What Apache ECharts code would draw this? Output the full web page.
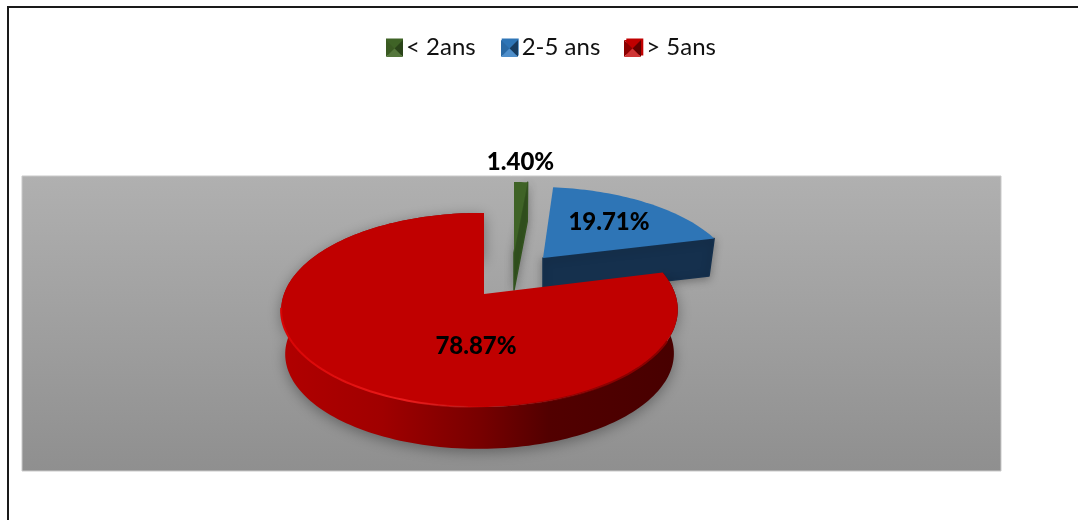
<!DOCTYPE html>
<html><head><meta charset="utf-8">
<style>html,body{margin:0;padding:0;background:#fff}#c{width:1078px;height:520px}</style>
<script src="https://cdn.jsdelivr.net/npm/echarts@6/dist/echarts.min.js"></script>
</head><body><div id="c"></div>
<script>
const categories = ['< 2ans', '2-5 ans', '> 5ans'];
const shares = [1.40, 19.71, 78.87];

const topColors = ['#3f6326', '#2e75b6', '#c00000'];
const wallColors = ['#33531f', '#15304d', '#700000'];
// perspective model of each exploded slice (apex, radii, foreshortening)
const slices = [
  {ax:514, ay:253, R:190.6, S:87.2, k:.228, m:.02, a:0, depth:37, base:.97, lx:6.5, ly:-91},
  {ax:543, ay:258, R:190.6, S:87.2, k:.228, m:.02, a:-4.3, depth:37, base:.97, lx:66, ly:-36},
  {ax:484, ay:294, R:195.5, S:94.4, k:.165, m:.0226, a:0, depth:44, base:.98, lx:-8, ly:52}
];
const LABEL_FONT = '900 24px Lato';
const total = shares.reduce((s, v) => s + v, 0);

function rim(g, deg, lower) {
  const t = deg * Math.PI / 180, u = Math.sin(t), v = Math.cos(t);
  const d = 1 + g.k * v + g.m * u, s = lower ? g.base : 1;
  return [g.ax + s * (g.R * u + g.a * v) / d,
          g.ay + (lower ? g.depth : 0) - s * g.S * v / d];
}
function arc(g, a0, a1, lower) {
  const pts = [], n = Math.max(4, Math.ceil(Math.abs(a1 - a0) / 1.5));
  for (let i = 0; i <= n; i++) pts.push(rim(g, a0 + (a1 - a0) * i / n, lower));
  return pts;
}
function grad(x0, x1, stops) {
  return {type:'linear', x:x0, y:0, x2:x1, y2:0, global:true,
    colorStops: stops.map(s => ({offset:s[0], color:s[1]}))};
}
function renderSlice(params, api) {
  const i = params.seriesIndex, g = slices[i];
  let start = 0;
  for (let j = 0; j < i; j++) start += shares[j] / total * 360;
  const end = start + api.value(0) / total * 360;
  const kids = [];
  const apex = [g.ax, g.ay], apexLow = [g.ax, g.ay + g.depth];
  if (i === 2) {
    const top = arc(g, start, end, false), low = arc(g, end, start, true);
    kids.push({type:'polygon', shape:{points: top.concat(low)}, style:{
      fill: grad(285, 673, [[0,'#b00000'],[.25,'#a00000'],[.5,'#780000'],[.68,'#520000'],[1,'#480000']]),
      shadowBlur:14, shadowColor:'rgba(0,0,0,.34)', shadowOffsetY:3}});
  } else {
    const r = rim(g, end, false), rl = rim(g, end, true);
    kids.push({type:'polygon', shape:{points:[apex, r, rl, apexLow]}, style:{
      fill: wallColors[i], stroke: wallColors[i], lineWidth:1.5, lineJoin:'round',
      shadowBlur:8, shadowColor:'rgba(0,0,0,.3)', shadowOffsetY:2}});
  }
  kids.push({type:'polygon', shape:{points:[apex].concat(arc(g, start, end, false))},
    style:{fill: topColors[i]}});
  if (i === 2) {
    kids.push({type:'polyline', shape:{points: arc(g, 262, 175, false)}, style:{
      fill:null, lineWidth:2,
      stroke: grad(280, 490, [[0,'#d80404'],[.6,'#ea1c1c'],[1,'rgba(234,28,28,0)']])}});
    kids.push({type:'polyline', shape:{points: arc(g, 175, 118, false)}, style:{
      fill:null, lineWidth:2,
      stroke: grad(480, 680, [[0,'rgba(120,0,0,0)'],[.7,'#8a0000'],[1,'#8a0000']])}});
  }
  kids.push({type:'text', z2:10, style:{
    text: api.value(0).toFixed(2) + '%', x: g.ax + g.lx, y: g.ay + g.ly,
    align:'center', verticalAlign:'middle', font: LABEL_FONT, fill:'#000'}});
  return {type:'group', children:kids};
}

// bevel of the legend keys
const iconX = [386, 501, 624], iconY = 40, iconS = 17;
const bevels = [['#3f6326','#2a4419','#3a5a22','#55773c'],
                ['#2e75b6','#173c60','#2a6aa5','#4f8fcb'],
                ['#c00000','#620000','#8c0000','#cf3535']];
const bevelGraphics = [];
iconX.forEach((x, n) => {
  const c = [x + iconS / 2, iconY + iconS / 2], a = [x, iconY], b = [x + iconS, iconY],
        d = [x + iconS, iconY + iconS], e = [x, iconY + iconS];
  [[a,b],[b,d],[e,a],[d,e]].forEach((p, j) => bevelGraphics.push({
    type:'polygon', silent:true, z:20, shape:{points:[p[0], p[1], c]}, style:{fill:bevels[n][j]}}));
});

const chart = echarts.init(document.getElementById('c'));
chart.setOption({
  animation:false,
  backgroundColor:'#fff',
  grid:{left:22, top:176, width:979, height:295, show:true, borderColor:'#c9c9c9', borderWidth:1,
    backgroundColor:{type:'linear', x:0, y:0, x2:0, y2:1,
      colorStops:[{offset:0, color:'#b0b0b0'},{offset:1, color:'#8f8f8f'}]}},
  xAxis:{show:false, type:'value'},
  yAxis:{show:false, type:'value'},
  legend:{data:categories, left:386, top:35, padding:0, itemWidth:17, itemHeight:17, itemGap:26, icon:'rect',
    textStyle:{fontFamily:'Lato', fontSize:24, color:'#111', padding:[0,0,0,-2]}},
  graphic:[
    {type:'polyline', z:-1, shape:{points:[[8,520],[8,7],[1078,7]]}, style:{fill:null, stroke:'#1a1a1a', lineWidth:2}}
  ].concat(bevelGraphics),
  series: categories.map((name, i) => ({
    type:'custom', name, coordinateSystem:'none', renderItem:renderSlice,
    itemStyle:{color:topColors[i]}, data:[[shares[i]]], silent:true, z:2 + i
  }))
});
</script></body></html>
